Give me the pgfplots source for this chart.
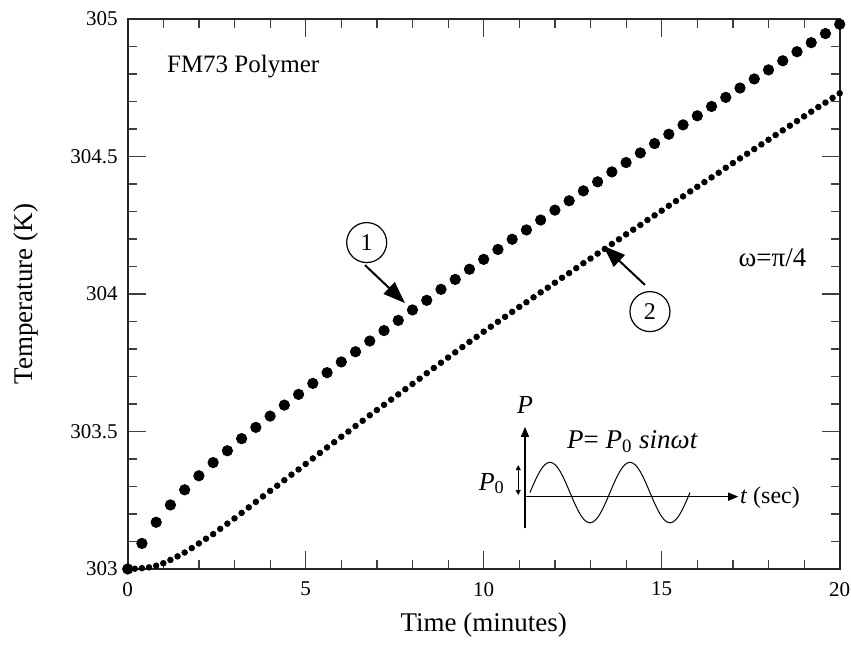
\documentclass[border=0pt]{standalone}
\usepackage{fontspec}
\setmainfont{Liberation Serif}
\usepackage{pgfplots}
\pgfplotsset{compat=1.18}
\usetikzlibrary{arrows.meta}

\pgfplotstableread{
x y
0.0 303.000
0.4 303.093
0.8 303.170
1.2 303.233
1.6 303.288
2.0 303.339
2.4 303.387
2.8 303.430
3.2 303.474
3.6 303.515
4.0 303.556
4.4 303.596
4.8 303.635
5.2 303.675
5.6 303.714
6.0 303.753
6.4 303.790
6.8 303.829
7.2 303.867
7.6 303.904
8.0 303.942
8.4 303.977
8.8 304.017
9.2 304.053
9.6 304.090
10.0 304.126
10.4 304.162
10.8 304.199
11.2 304.233
11.6 304.269
12.0 304.305
12.4 304.339
12.8 304.375
13.2 304.408
13.6 304.444
14.0 304.478
14.4 304.513
14.8 304.547
15.2 304.581
15.6 304.615
16.0 304.648
16.4 304.682
16.8 304.715
17.2 304.749
17.6 304.782
18.0 304.815
18.4 304.848
18.8 304.881
19.2 304.914
19.6 304.947
20.0 304.981
}\seriesone

\pgfplotstableread{
x y
0.0 303.000
0.2 303.001
0.4 303.003
0.6 303.006
0.8 303.012
1.0 303.021
1.2 303.033
1.4 303.046
1.6 303.060
1.8 303.076
2.0 303.093
2.2 303.110
2.4 303.127
2.6 303.146
2.8 303.165
3.0 303.184
3.2 303.204
3.4 303.224
3.6 303.244
3.8 303.264
4.0 303.284
4.2 303.303
4.4 303.323
4.6 303.343
4.8 303.362
5.0 303.382
5.2 303.402
5.4 303.422
5.6 303.442
5.8 303.461
6.0 303.481
6.2 303.500
6.4 303.520
6.6 303.539
6.8 303.559
7.0 303.578
7.2 303.597
7.4 303.616
7.6 303.635
7.8 303.654
8.0 303.673
8.2 303.692
8.4 303.712
8.6 303.731
8.8 303.750
9.0 303.769
9.2 303.788
9.4 303.807
9.6 303.826
9.8 303.844
10.0 303.863
10.2 303.881
10.4 303.899
10.6 303.917
10.8 303.935
11.0 303.953
11.2 303.970
11.4 303.988
11.6 304.006
11.8 304.023
12.0 304.041
12.2 304.059
12.4 304.076
12.6 304.094
12.8 304.112
13.0 304.129
13.2 304.147
13.4 304.164
13.6 304.182
13.8 304.199
14.0 304.217
14.2 304.234
14.4 304.251
14.6 304.269
14.8 304.286
15.0 304.303
15.2 304.321
15.4 304.338
15.6 304.355
15.8 304.373
16.0 304.390
16.2 304.407
16.4 304.424
16.6 304.441
16.8 304.459
17.0 304.476
17.2 304.493
17.4 304.510
17.6 304.527
17.8 304.544
18.0 304.561
18.2 304.578
18.4 304.595
18.6 304.612
18.8 304.629
19.0 304.646
19.2 304.663
19.4 304.680
19.6 304.696
19.8 304.713
20.0 304.730
}\seriestwo

\begin{document}
\begin{tikzpicture}
\path[use as bounding box] (-63.85pt,-37.5pt) rectangle (361.65pt,284.5pt);
\begin{axis}[
  at={(0,0)}, anchor=south west,
  scale only axis, width=356pt, height=275pt,
  xmin=0, xmax=20, ymin=303, ymax=305,
  xtick={0,5,10,15,20}, ytick={303,303.5,304,304.5,305},
  minor x tick num=4, minor y tick num=4,
  tick align=inside,
  xtick pos=both, ytick pos=both,
  major tick length=9pt, minor tick length=4.5pt,
  axis line style={line width=0.9pt, black!85},
  every major tick/.append style={line width=0.7pt, black!75},
  every minor tick/.append style={line width=0.6pt, black!75},
  tick label style={font=\fontsize{10.5}{12}\selectfont},
  /pgf/number format/assume math mode=true,
  xticklabel style={yshift=-3pt},
  yticklabel style={xshift=-1.5pt},
  xlabel={Time (minutes)},
  ylabel={Temperature (K)},
  xlabel style={font=\fontsize{13.5}{16}\selectfont, at={(axis description cs:0.5,-0.1018)}, anchor=center},
  ylabel style={font=\fontsize{13.5}{16}\selectfont, at={(axis description cs:-0.1433,0.5)}, anchor=center},
  clip=false,
]
\addplot[only marks, mark=*, mark size=2.6pt, black] table[x=x,y=y] {\seriesone};
\addplot[only marks, mark=*, mark size=1.4pt, black] table[x=x,y=y] {\seriestwo};

% annotations
\node[draw, circle, minimum size=20pt, inner sep=0pt, line width=0.6pt, font=\fontsize{12}{14}\selectfont] at (axis cs:6.713,304.187) {1};
\draw[line width=1pt, -{Triangle[length=11pt,width=8pt]}] (axis cs:6.666,304.105) -- (axis cs:7.79,303.967);
\node[draw, circle, minimum size=20pt, inner sep=0pt, line width=0.6pt, font=\fontsize{12}{14}\selectfont] at (axis cs:14.67,303.936) {2};
\draw[line width=1pt, -{Triangle[length=11pt,width=8pt]}] (axis cs:14.53,304.033) -- (axis cs:13.36,304.175);

\node[anchor=base west, inner sep=0pt, font=\fontsize{12.5}{15}\selectfont] at (axis cs:1.096,304.807) {FM73 Polymer};
\node[anchor=base west, inner sep=0pt, font=\fontsize{13.5}{16}\selectfont] at (axis cs:17.15,304.099) {ω=π/4};

% inset schematic
\draw[line width=0.6pt, -{Triangle[length=5pt,width=4pt]}] (axis cs:11.16,303.148) -- (axis cs:11.16,303.517);
\draw[line width=0.6pt, -{Triangle[length=5pt,width=4pt]}] (axis cs:11.16,303.263) -- (axis cs:17.15,303.263);
\draw[line width=1.4pt] (axis cs:11.16,303.262) -- (axis cs:11.16,303.389);
\draw[line width=0.5pt, {Triangle[length=2.5pt,width=2.5pt]}-{Triangle[length=2.5pt,width=2.5pt]}] (axis cs:10.97,303.269) -- (axis cs:10.97,303.378);
\draw[line width=0.5pt] (axis cs:11.300,303.278) sin (axis cs:11.862,303.388) cos (axis cs:12.424,303.278) sin (axis cs:12.985,303.168) cos (axis cs:13.547,303.278)
  sin (axis cs:14.109,303.388) cos (axis cs:14.671,303.278) sin (axis cs:15.233,303.168) cos (axis cs:15.794,303.278);
\node[anchor=base west, inner sep=0pt, font=\fontsize{13.5}{16}\selectfont] at (axis cs:12.33,303.439) {\textit{P}= \textit{P}\textsubscript{0} \textit{sinωt}};
\node[anchor=base west, inner sep=0pt, font=\fontsize{12}{14}\selectfont] at (axis cs:17.19,303.239) {\textit{t} (sec)};
\node[anchor=base west, inner sep=0pt, font=\fontsize{13}{15}\selectfont] at (axis cs:10.93,303.566) {\textit{P}};
\node[anchor=base west, inner sep=0pt, font=\fontsize{13}{15}\selectfont] at (axis cs:9.85,303.287) {\textit{P}\textsubscript{0}};
\end{axis}
\end{tikzpicture}
\end{document}
